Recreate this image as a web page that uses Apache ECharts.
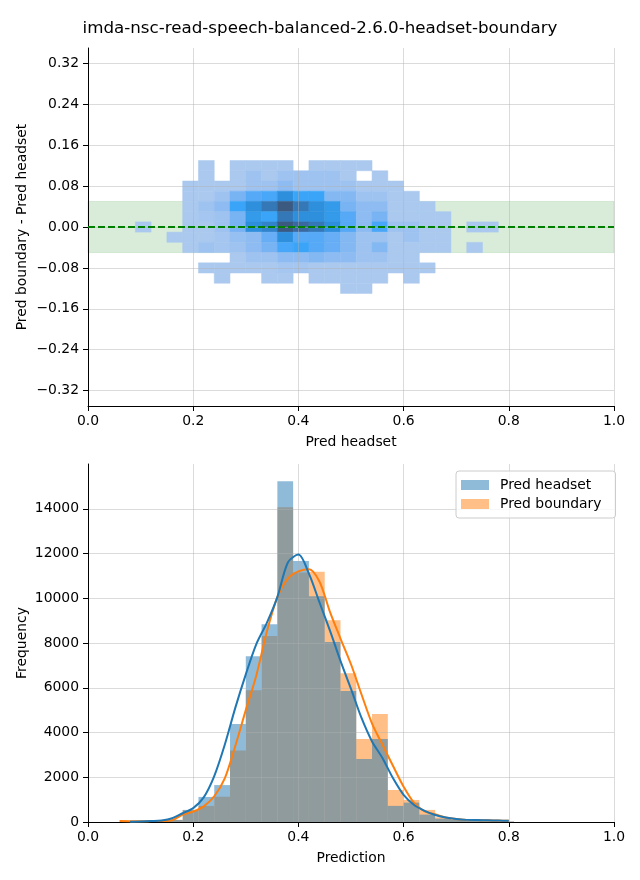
<!DOCTYPE html>
<html><head><meta charset="utf-8">
<script src="https://cdn.jsdelivr.net/npm/echarts@6/dist/echarts.min.js"></script>
<style>html,body{margin:0;padding:0;background:#fff}#c{width:640px;height:880px}</style>
</head><body><div id="c"></div>
<script>
// ---------- data ----------
const titleText = 'imda-nsc-read-speech-balanced-2.6.0-headset-boundary';
// 2D histogram (top): column centres (Pred headset), row centres (difference)
const heatCols = [0.105,0.135,0.165,0.195,0.225,0.255,0.285,0.315,0.345,0.375,0.405,0.435,0.465,0.495,0.525,0.555,0.585,0.615,0.645,0.675,0.705,0.735,0.765];
const heatRows = [0.12,0.10,0.08,0.06,0.04,0.02,0,-0.02,-0.04,-0.06,-0.08,-0.10,-0.12];
const heatBinW = 0.03, heatBinH = 0.02;
// density level per cell (0 = empty), estimated from the colours
const heatRow012  = [0,0,0,0,1,0,1,1,1,1,0,1,1,1,1,0,0,0,0,0,0,0,0];
const heatRow010  = [0,0,0,0,1,0,1,2,1,2,2,2,2,1,0,1,0,0,0,0,0,0,0];
const heatRow008  = [0,0,0,1,1,1,1,2,2,3,2,2,2,2,1,1,1,0,0,0,0,0,0];
const heatRow006  = [0,0,0,1,1,2,4,5,5.5,7,6,6,3.5,3.5,2,2,1,1,0,0,0,0,0];
const heatRow004  = [0,0,0,1,2,3,6,7,8,10,8,7,6.5,4,3,3,1,1,1,0,0,0,0];
const heatRow002  = [0,0,0,1,1.5,2,4,6.5,6,8,7,7,6.5,5,3,4,1,1,1,1,0,0,0];
const heatRow000  = [1,0,0,1,1,2,4,7,7.5,10,9,8,7,5,3,5.5,2,2,1,1,0,1,1];
const heatRowM002 = [0,0,1,1,1,1.5,2.5,3,4.5,7,5,5,4.5,3.5,2,2,1,2,1,1,0,0,0];
const heatRowM004 = [0,0,0,1,2,1.5,2,3,4,5.5,6,5,4.5,3.5,2,3.5,1,1,1,1,0,1,0];
const heatRowM006 = [0,0,0,0,0,0,1,2,2,3,3,3.5,3,3,2,2,1,1,0,0,0,0,0];
const heatRowM008 = [0,0,0,0,1,1,1,1,1,1.5,1.5,1,1,1,1,1,1,1,1,0,0,0,0];
const heatRowM010 = [0,0,0,0,0,1,0,0,1,1,0,1,1,1,1,1,0,1,0,0,0,0,0];
const heatRowM012 = [0,0,0,0,0,0,0,0,0,0,0,0,0,1,1,0,0,0,0,0,0,0,0];
const heatLevels = [heatRow012,heatRow010,heatRow008,heatRow006,heatRow004,heatRow002,heatRow000,
  heatRowM002,heatRowM004,heatRowM006,heatRowM008,heatRowM010,heatRowM012];
const bandLow = -0.05, bandHigh = 0.05, zeroLine = 0;
const topYTicks = [-0.32,-0.24,-0.16,-0.08,0,0.08,0.16,0.24,0.32];

// 1D histograms (bottom)
const histLeft = [0.09,0.12,0.15,0.18,0.21,0.24,0.27,0.30,0.33,0.36,0.39,0.42,0.45,0.48,0.51,0.54,0.57,0.60,0.63,0.66,0.69,0.72,0.75,0.78];
const histBinW = 0.03;
const histHeadset  = [10,30,90,540,1120,1650,4380,7410,8840,15230,11660,10090,8050,5860,2820,3710,720,865,330,150,100,60,40,20];
const histBoundary = [20,40,100,520,720,1130,3190,5890,8310,14070,11150,11180,9020,6650,3710,4830,1430,985,540,210,100,60,40,20];
const kdeX = [0.06,0.08,0.10,0.12,0.14,0.16,0.18,0.20,0.22,0.24,0.26,0.28,0.30,0.32,0.34,0.36,0.38,0.40,0.42,0.44,0.46,0.48,0.50,0.52,0.54,0.56,0.58,0.60,0.62,0.64,0.66,0.68,0.70,0.72,0.74,0.76,0.78,0.80];
const kdeHeadset  = [null,10,20,40,70,170,390,620,1100,2050,3450,5100,6600,7950,8900,10050,11600,11950,11100,9820,8550,7200,5950,4650,3600,2850,1950,1210,760,500,313,200,130,95,85,75,65,55];
const kdeBoundary = [40,35,35,40,45,80,330,470,700,1150,1950,3400,5000,6550,8500,10050,10880,11200,11300,10750,9390,8200,7050,5700,4400,3450,2500,1580,850,480,343,200,130,95,85,75,65,55];
const bottomYTicks = [0,2000,4000,6000,8000,10000,12000,14000];

// ---------- chart ----------
const FONT = 'DejaVu Sans';
const FS = 13.9;
const gridColor = 'rgba(176,176,176,0.45)';
const heatData = [];
heatLevels.forEach((row, r) => row.forEach((v, c) => { if (v > 0) heatData.push([heatCols[c], heatRows[r], v]); }));
const headsetData = histLeft.map((x, i) => [x, x + histBinW, histHeadset[i]]);
const boundaryData = histLeft.map((x, i) => [x, x + histBinW, histBoundary[i]]);
const kdeHeadsetData = kdeX.map((x, i) => [x, kdeHeadset[i]]).filter(p => p[1] !== null);
const kdeBoundaryData = kdeX.map((x, i) => [x, kdeBoundary[i]]);

function fmtMinus(v, d) { return (v < -1e-9 ? '\u2212' : '') + Math.abs(v).toFixed(d); }

function xAxisOf(gi, name) {
  return {
    gridIndex: gi, type: 'value', min: 0, max: 1, interval: 0.2, z: 3,
    name: name, nameLocation: 'middle', nameGap: 29,
    nameTextStyle: { fontFamily: FONT, fontSize: FS, color: '#000' },
    axisLine: { onZero: false, lineStyle: { color: '#000', width: 1 } },
    axisTick: { show: true, length: 5, lineStyle: { color: '#000', width: 1 } },
    axisLabel: { formatter: v => v.toFixed(1), color: '#000', fontSize: FS, fontFamily: FONT, margin: 8 },
    splitLine: { show: true, lineStyle: { color: gridColor, width: 1 } }
  };
}
function yAxisOf(gi, name, min, max, ticks, fmt, gap) {
  return {
    gridIndex: gi, type: 'value', min: min, max: max, z: 3,
    name: name, nameLocation: 'middle', nameGap: gap, nameMoveOverlap: false,
    nameTextStyle: { fontFamily: FONT, fontSize: FS, color: '#000' },
    axisLine: { show: true, onZero: false, lineStyle: { color: '#000', width: 1 } },
    axisTick: { show: true, length: 5, customValues: ticks, lineStyle: { color: '#000', width: 1 } },
    axisLabel: { customValues: ticks, formatter: fmt, color: '#000', fontSize: FS, fontFamily: FONT, margin: 9 },
    splitLine: { show: true, lineStyle: { color: gridColor, width: 1 } }
  };
}

function histItem(color) {
  return function (params, api) {
    const p0 = api.coord([api.value(0), api.value(2)]);
    const p1 = api.coord([api.value(1), 0]);
    return { type: 'rect', shape: { x: p0[0], y: p0[1], width: p1[0] - p0[0], height: p1[1] - p0[1] },
      style: { fill: color } };
  };
}

const option = {
  animation: false,
  backgroundColor: '#fff',
  title: { text: titleText, left: 'center', top: 20, padding: 0,
    textStyle: { fontFamily: FONT, fontSize: 16.7, fontWeight: 'normal', color: '#000' } },
  grid: [
    { left: 88, right: 26, top: 48, height: 358 },
    { left: 88, right: 26, top: 464, height: 358 }
  ],
  xAxis: [xAxisOf(0, 'Pred headset'), xAxisOf(1, 'Prediction')],
  yAxis: [
    yAxisOf(0, 'Pred boundary - Pred headset', -0.35, 0.35, topYTicks, v => fmtMinus(v, 2), 59),
    yAxisOf(1, 'Frequency', 0, 16000, bottomYTicks, v => String(Math.round(v)), 59)
  ],
  legend: {
    data: [{ name: 'Pred headset', icon: 'rect' }, { name: 'Pred boundary', icon: 'rect' }],
    orient: 'vertical', left: 456, top: 471, itemWidth: 28, itemHeight: 10, itemGap: 5,
    padding: [7, 14, 7, 5], backgroundColor: 'rgba(255,255,255,0.8)', borderColor: '#cccccc',
    borderWidth: 1, borderRadius: 3, selectedMode: false, z: 10,
    textStyle: { fontFamily: FONT, fontSize: FS, color: '#000', padding: [0, 0, 0, 6] }
  },
  visualMap: {
    type: 'continuous', show: false, min: 1, max: 10, dimension: 2, seriesIndex: 1,
    inRange: { color: ['#abc9ef','#9fc3f1','#8ebcf2','#78b3f4','#55a9f7','#3aa5f8','#2e8fdc','#3578b8','#3a69a0','#3c5a80'] }
  },
  series: [
    { type: 'line', xAxisIndex: 0, yAxisIndex: 0, data: [], z: 1, silent: true,
      markArea: { silent: true, itemStyle: { color: 'rgba(0,128,0,0.15)', borderColor: 'rgba(0,128,0,0.12)', borderWidth: 1 },
        data: [[{ yAxis: bandLow }, { yAxis: bandHigh }]] } },
    { type: 'custom', xAxisIndex: 0, yAxisIndex: 0, z: 2, data: heatData,
      encode: { x: 0, y: 1 },
      renderItem: function (params, api) {
        const x = api.value(0), y = api.value(1);
        const p0 = api.coord([x - heatBinW / 2, y + heatBinH / 2]);
        const p1 = api.coord([x + heatBinW / 2, y - heatBinH / 2]);
        const c = api.visual('color');
        return { type: 'rect', shape: { x: p0[0], y: p0[1], width: p1[0] - p0[0], height: p1[1] - p0[1] },
          style: { fill: c, stroke: c, lineWidth: 0.5 } };
      } },
    { type: 'line', xAxisIndex: 0, yAxisIndex: 0, data: [], z: 5, silent: true,
      markLine: { silent: true, symbol: ['none', 'none'], label: { show: false },
        lineStyle: { color: '#008000', type: [7, 3], width: 2 }, data: [{ yAxis: zeroLine }] } },
    { name: 'Pred boundary', type: 'custom', xAxisIndex: 1, yAxisIndex: 1, z: 2, data: boundaryData,
      encode: { x: [0, 1], y: 2 }, itemStyle: { color: 'rgba(255,127,14,0.5)' },
      renderItem: histItem('rgba(255,127,14,0.5)') },
    { name: 'Pred headset', type: 'custom', xAxisIndex: 1, yAxisIndex: 1, z: 2, data: headsetData,
      encode: { x: [0, 1], y: 2 }, itemStyle: { color: 'rgba(31,119,180,0.5)' },
      renderItem: histItem('rgba(31,119,180,0.5)') },
    { name: 'kde boundary', type: 'line', xAxisIndex: 1, yAxisIndex: 1, z: 5, data: kdeBoundaryData,
      smooth: 0.3, showSymbol: false, symbol: 'none', lineStyle: { color: '#ff7f0e', width: 2 }, itemStyle: { color: '#ff7f0e' } },
    { name: 'kde headset', type: 'line', xAxisIndex: 1, yAxisIndex: 1, z: 6, data: kdeHeadsetData,
      smooth: 0.3, showSymbol: false, symbol: 'none', lineStyle: { color: '#1f77b4', width: 2 }, itemStyle: { color: '#1f77b4' } }
  ]
};
const chart = echarts.init(document.getElementById('c'));
chart.setOption(option);
</script>
</body></html>
